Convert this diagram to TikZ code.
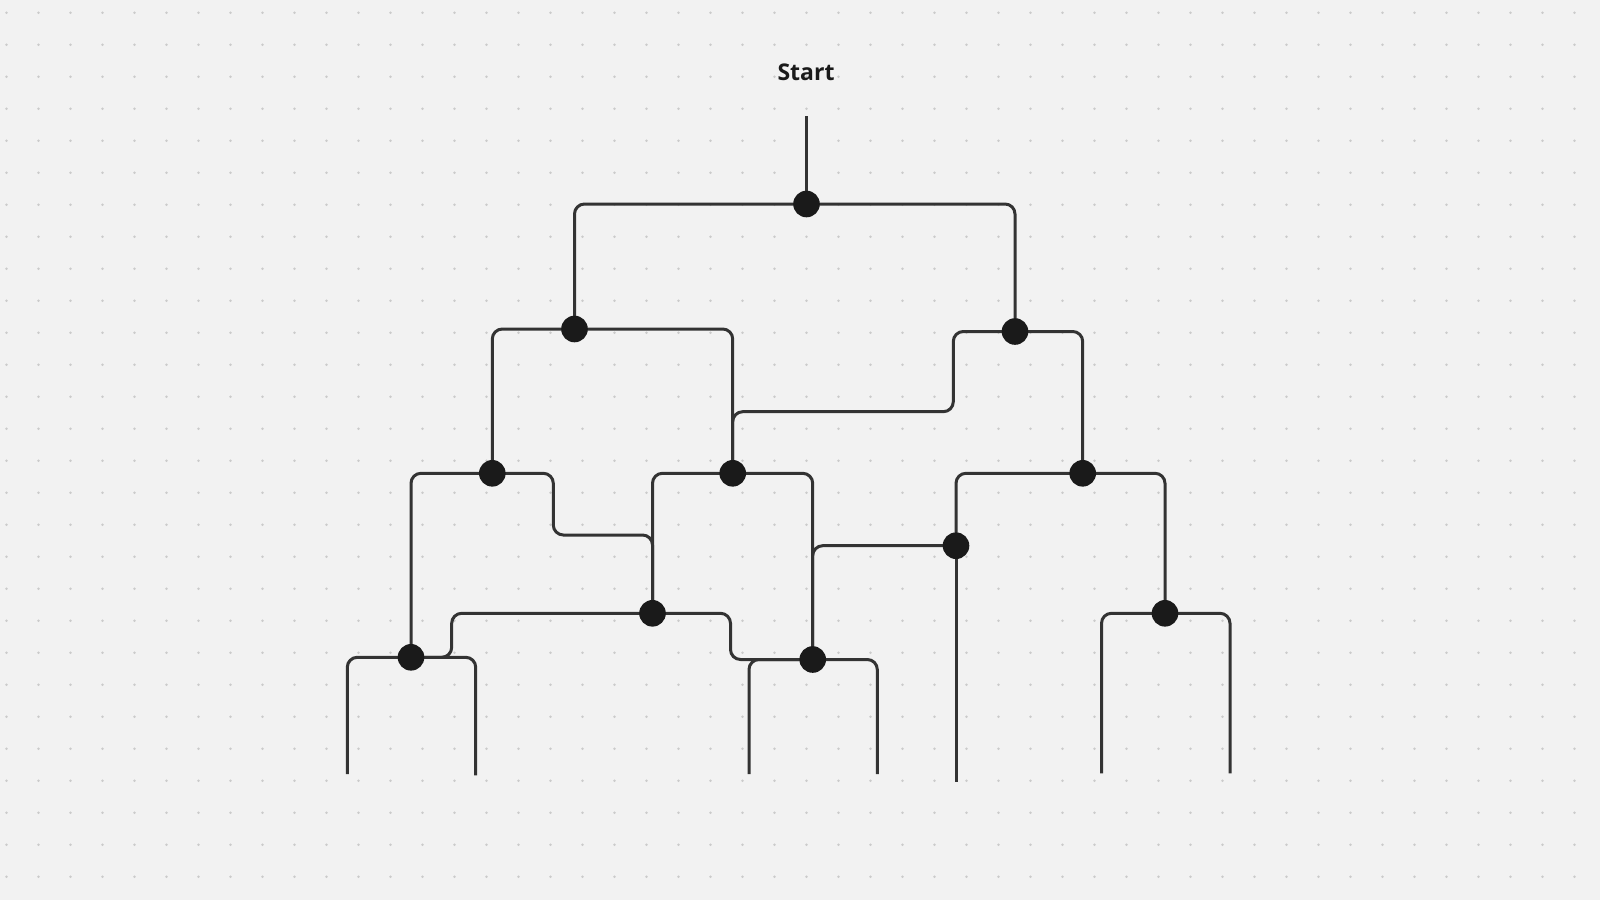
\documentclass[tikz,border=0pt]{standalone}
\usepackage{fontspec}
\setmainfont{Open Sans}
\definecolor{bgc}{HTML}{F2F2F2}
\definecolor{dotc}{HTML}{CBCBCB}
\definecolor{linec}{HTML}{333333}
\definecolor{nodec}{HTML}{1A1A1A}
\pgfdeclarelayer{bg}
\pgfsetlayers{bg,main}
\tikzset{
  junction/.style={circle, fill=nodec, draw=none, minimum size=13.3pt, inner sep=0pt},
  wire/.style={draw=linec, line width=1.5pt, rounded corners=5pt},
  title/.style={font=\fontsize{11.5}{14}\selectfont\bfseries, text=nodec, inner sep=0pt}
}
\begin{document}
\begin{tikzpicture}[x=0.5pt, y=-0.5pt]
\useasboundingbox (0,0) rectangle (1600,900);
\begin{pgfonlayer}{bg}
\fill[bgc] (0,0) rectangle (1600,900);
\foreach \i in {0,...,49} {
  \foreach \j in {0,...,27} {
    \fill[dotc] ({6.5+32*\i},{12.7+32*\j}) circle[radius=0.7pt];
  }
}
\end{pgfonlayer}

\node[title] (start) at (806,72) {Start};

\node[junction] (R) at (806.5,204) {};
\node[junction] (A) at (574.5,329) {};
\node[junction] (B) at (1015,331.5) {};
\node[junction] (C) at (492.3,473.3) {};
\node[junction] (D) at (732.7,473.3) {};
\node[junction] (E) at (1082.7,473.3) {};
\node[junction] (I) at (956,545.7) {};
\node[junction] (G) at (652.5,613.3) {};
\node[junction] (J) at (1165,613.3) {};
\node[junction] (F) at (411,657.3) {};
\node[junction] (H) at (812.7,659.5) {};

\coordinate (s0) at (806.5,116);
\coordinate (f1) at (347.3,774);
\coordinate (f2) at (475.7,775.3);
\coordinate (h1) at (749,774);
\coordinate (h2) at (877.3,774);
\coordinate (i1) at (956,781.7);
\coordinate (j1) at (1101.5,773.3);
\coordinate (j2) at (1230,773.3);

\begin{pgfonlayer}{bg}
\draw[wire] (s0) -- (R.center);
\draw[wire] (R.center) -| (A.center);
\draw[wire] (R.center) -| (B.center);
\draw[wire] (A.center) -| (C.center);
\draw[wire] (A.center) -| (D.center);
\draw[wire] (B.center) -| (E.center);
\draw[wire] (B.center) -- (953.3,331.5) -- (953.3,411.7) -- (732.7,411.7) -- (D.center);
\draw[wire] (C.center) -| (F.center);
\draw[wire] (C.center) -- (553.3,473.3) -- (553.3,535) -- (652.5,535) -- (G.center);
\draw[wire] (D.center) -| (G.center);
\draw[wire] (D.center) -| (H.center);
\draw[wire] (E.center) -| (I.center);
\draw[wire] (E.center) -| (J.center);
\draw[wire] (I.center) -| (H.center);
\draw[wire] (I.center) -- (i1);
\draw[wire] (G.center) -- (451.7,613.3) -- (451.7,657.3) -- (F.center);
\draw[wire] (G.center) -- (730.5,613.3) -- (730.5,659.5) -- (H.center);
\draw[wire] (F.center) -| (f1);
\draw[wire] (F.center) -| (f2);
\draw[wire] (H.center) -| (h1);
\draw[wire] (H.center) -| (h2);
\draw[wire] (J.center) -| (j1);
\draw[wire] (J.center) -| (j2);
\end{pgfonlayer}
\end{tikzpicture}
\end{document}
